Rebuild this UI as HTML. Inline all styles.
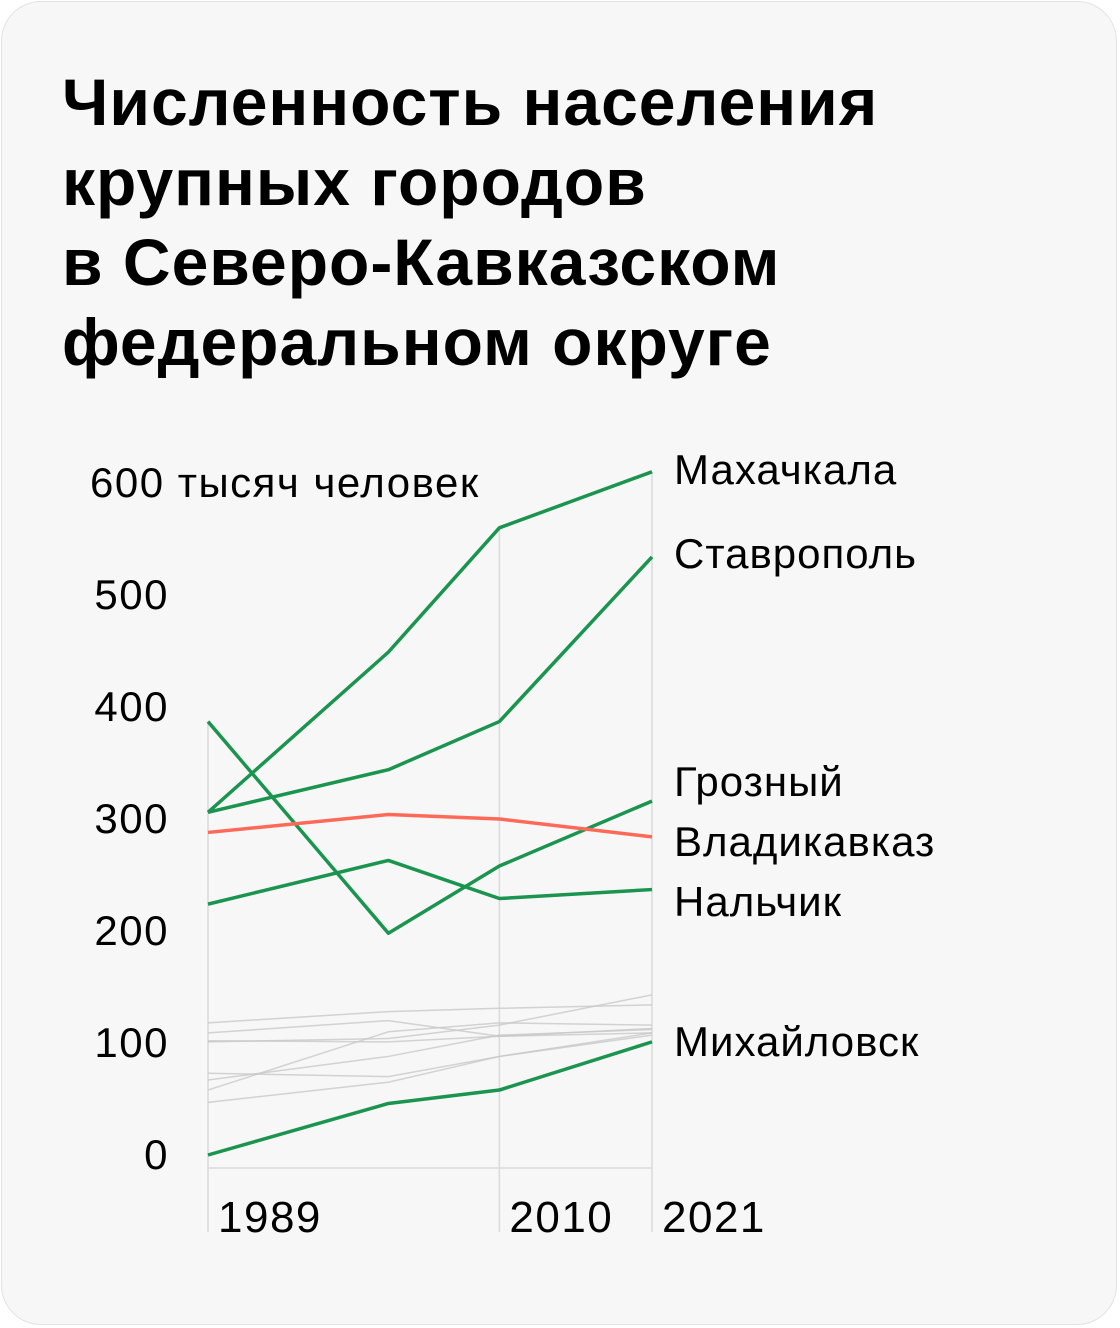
<!DOCTYPE html>
<html><head><meta charset="utf-8"><style>
html,body{margin:0;padding:0;background:#fff;}
.card{position:absolute;left:1px;top:1px;width:1116px;height:1324px;border:1px solid #e2e2e2;border-radius:40px;background:#f7f7f7;box-sizing:border-box;}
h1{position:absolute;left:62px;top:62px;margin:0;font-family:"Liberation Sans",sans-serif;font-weight:bold;font-size:66px;line-height:80px;color:#000;letter-spacing:1px;}
svg{position:absolute;left:0;top:0;}
text{font-family:"Liberation Sans",sans-serif;fill:#000;}
</style></head><body>
<div class="card"></div>
<h1>Численность населения<br>крупных городов<br>в Северо-Кавказском<br>федеральном округе</h1>
<svg id="chart" width="1120" height="1328"></svg>
<script>
const years=[1989,2002,2010,2021];
const yTicks=[0,100,200,300,400,500,600];
const tickLabels=["0","100","200","300","400","500","600 тысяч человек"];
const xLabels=["1989","2010","2021"];
const makhachkala=[306,449,560,610];
const stavropol=[306,344,387,534];
const grozny=[387,198,258,316];
const vladikavkaz=[288,304,300,284];
const nalchik=[224,263,229,237];
const mikhailovsk=[0,46,58,101];
const gray1=[118,128,131,134];
const gray2=[109,120,106,109];
const gray3=[58,110,118,116];
const gray4=[101,104,116,143];
const gray5=[102,101,106,113];
const gray6=[73,70,88,107];
const gray7=[67,88,107,112];
const gray8=[47,65,88,109];
const highlighted=[["Махачкала",makhachkala,"#1a944e",470],["Ставрополь",stavropol,"#1a944e",554],["Грозный",grozny,"#1a944e",782],["Владикавказ",vladikavkaz,"#ff6a58",842],["Нальчик",nalchik,"#1a944e",902],["Михайловск",mikhailovsk,"#1a944e",1042]];
const grays=[gray1,gray2,gray3,gray4,gray5,gray6,gray7,gray8];
const NS="http://www.w3.org/2000/svg";
const svg=document.getElementById('chart');
const x=y=>208+(y-1989)*(444/32);
const yS=v=>1155-v*1.12;
function mk(t,a,p){const e=document.createElementNS(NS,t);for(const k in a)e.setAttribute(k,a[k]);(p||svg).appendChild(e);return e;}
let b=mk('line',{x1:208,x2:652,y1:1168,y2:1168,stroke:'#dadada','stroke-width':1.5});


const all=[makhachkala,stavropol,grozny,vladikavkaz,nalchik,mikhailovsk,...grays];
[0,2,3].forEach(i=>{
  const mx=Math.max(...all.map(s=>s[i]));
  const l=mk('line',{x1:x(years[i]),x2:x(years[i]),y1:yS(mx),y2:1232,stroke:'#dadada','stroke-width':1.5});
  
  
});
yTicks.forEach((v,i)=>{
  const isTop=i===yTicks.length-1;
  const t=mk('text',{x:isTop?90:169,y:yS(v)+14,'font-size':42,'letter-spacing':1.5,'text-anchor':isTop?'start':'end'});
  t.textContent=tickLabels[i];
  
  
});
[1989,2010,2021].forEach((yr,i)=>{
  const t=mk('text',{x:x(yr)+10,y:1232,'font-size':44,'letter-spacing':1.5});
  t.textContent=xLabels[i];
  
  
});
const pts=s=>s.map((v,i)=>x(years[i])+','+yS(v)).join(' ');
grays.forEach(s=>{
  const p=mk('polyline',{points:pts(s),fill:'none',stroke:'#c8c8c8','stroke-opacity':0.8,'stroke-width':1.5});
  
  
});
highlighted.forEach(([name,s,c,ly])=>{
  const p=mk('polyline',{points:pts(s),fill:'none',stroke:c,'stroke-width':3.5,'stroke-linejoin':'round'});
  
  
  const t=mk('text',{x:674,y:ly+14,'font-size':42,'letter-spacing':1});
  t.textContent=name;
  
  
});
</script>
</body></html>
